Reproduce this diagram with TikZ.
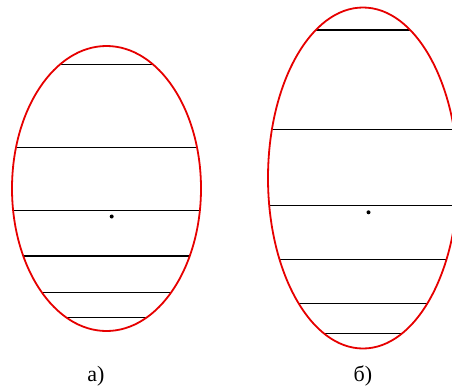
\documentclass[tikz,border=0pt]{standalone}
\usepackage{fontspec}
\setmainfont{Liberation Serif}
\begin{document}
\begin{tikzpicture}[x=1pt,y=-1pt,
  oval/.style={draw={rgb,255:red,230;green,0;blue,0},line width=1.8pt},
  chord/.style={draw=black,line width=1.1pt},
  centre/.style={fill=black,circle,inner sep=0pt,minimum size=4pt},
  caption/.style={font=\fontsize{22}{26}\selectfont,inner sep=0pt}]
\useasboundingbox (0,0) rectangle (452,389);
\clip (0,0) rectangle (452,389);
% left ellipse (a)
\foreach \yy in {64.3,147.3,210.7,256,292.7,317.3} {
  \pgfmathsetmacro\hw{94.5*sqrt(1-((\yy-188.5)/142.5)^2)}
  \draw[chord] (106.5-\hw,\yy) -- (106.5+\hw,\yy);
}
\draw[oval] (106.5,188.5) ellipse [x radius=94.5, y radius=142.5];
\node[centre] (dotA) at (111.7,216.5) {};
% right ellipse (b)
\foreach \yy in {30,129.5,205.5,259.3,303.5,333.3} {
  \pgfmathsetmacro\hw{95*sqrt(1-((\yy-178)/170.5)^2)}
  \draw[chord] (363-\hw,\yy) -- (363+\hw,\yy);
}
\draw[oval] (363,178) ellipse [x radius=95, y radius=170.5];
\node[centre] (dotB) at (368.5,212.3) {};
% captions
\node[caption] (capA) at (96,376) {а)};
\node[caption] (capB) at (363,376) {б)};
\end{tikzpicture}
\end{document}
